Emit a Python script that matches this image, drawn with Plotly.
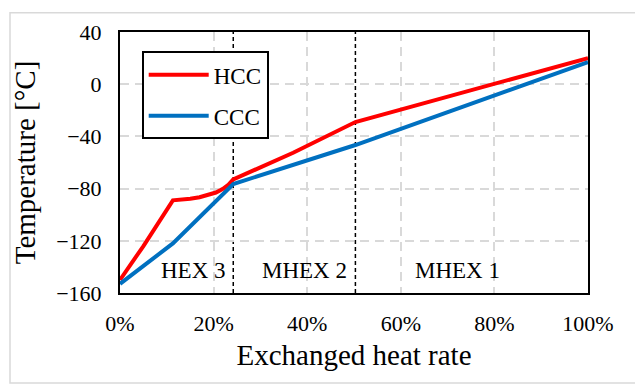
import plotly.graph_objects as go

# ---- data ----
hcc_x = [0, 5, 11.3, 13, 15, 17, 19, 20.5, 22, 23.2, 24.2, 37, 50.3, 100]
hcc_y = [-150, -124, -89, -88.6, -87.8, -86.6, -84.8, -83, -80.2, -77, -73, -52.5, -29, 20]
ccc_x = [0, 11.3, 24.2, 50.3, 100]
ccc_y = [-153, -122, -76.5, -46.6, 17]
section_bounds = [24.2, 50.3]
section_labels = ["HEX 3", "MHEX 2", "MHEX 1"]
section_label_x = [15.8, 39.5, 72.2]
section_label_y = -142.5
x_ticks = [0, 20, 40, 60, 80, 100]
y_ticks = [-160, -120, -80, -40, 0, 40]

FONT = "Liberation Serif, Times New Roman, serif"
# page body has an 8px margin, so the figure is drawn 8px right/down
W, H = 635, 378
L, R, T, B = 112, 55, 20, 93
pw, ph = W - L - R, H - T - B

fig = go.Figure()
fig.add_trace(go.Scatter(x=hcc_x, y=hcc_y, mode="lines", name="HCC", legendgroup="a",
                         line=dict(color="#FF0000", width=4)))
fig.add_trace(go.Scatter(x=ccc_x, y=ccc_y, mode="lines", name="CCC", legendgroup="b",
                         line=dict(color="#0070C0", width=4)))

for xb in section_bounds:
    fig.add_shape(type="line", x0=xb, x1=xb, y0=0, y1=1, xref="x", yref="paper",
                  line=dict(color="black", width=1.5, dash="4px,3px"), layer="between")

for lab, lx in zip(section_labels, section_label_x):
    fig.add_annotation(x=lx, y=section_label_y, text=lab, showarrow=False,
                       font=dict(family=FONT, size=23, color="black"))

# outer light border
fig.add_shape(type="rect", xref="paper", yref="paper",
              x0=(2 - L) / pw, x1=(632.5 - L) / pw,
              y0=(H - B - 376.5) / ph, y1=(H - B - 0.5) / ph,
              line=dict(color="#d9d9d9", width=1.5), fillcolor="rgba(0,0,0,0)", layer="below")

fig.update_layout(
    width=W, height=H, margin=dict(l=L, r=R, t=T, b=B),
    paper_bgcolor="white", plot_bgcolor="white",
    font=dict(family=FONT, color="black"),
    showlegend=True,
    legend=dict(x=(133.7 - L) / pw, y=(H - B - 39.7) / ph, xanchor="left", yanchor="top",
                bordercolor="black", borderwidth=2, bgcolor="white",
                font=dict(family=FONT, size=23, color="black"), tracegroupgap=8,
                traceorder="grouped", itemwidth=60),
    xaxis=dict(range=[0, 100], tickvals=x_ticks, ticktext=[f"{v}%" for v in x_ticks],
               showline=True, mirror=True, linecolor="black", linewidth=2,
               showgrid=True, gridcolor="#d9d9d9", gridwidth=1.5, griddash="9px,6px",
               zeroline=False, ticks="", ticklabelstandoff=10,
               tickfont=dict(family=FONT, size=22, color="black"),
               title=dict(text="Exchanged heat rate", font=dict(family=FONT, size=29), standoff=9)),
    yaxis=dict(range=[-160, 40], tickvals=y_ticks,
               showline=True, mirror=True, linecolor="black", linewidth=2,
               showgrid=True, gridcolor="#d9d9d9", gridwidth=1.5, griddash="9px,6px",
               zeroline=False, ticks="", ticklabelstandoff=12,
               tickfont=dict(family=FONT, size=22, color="black"),
               title=dict(text="Temperature [°C]", font=dict(family=FONT, size=29), standoff=12)),
)

fig.write_html("out.html")
